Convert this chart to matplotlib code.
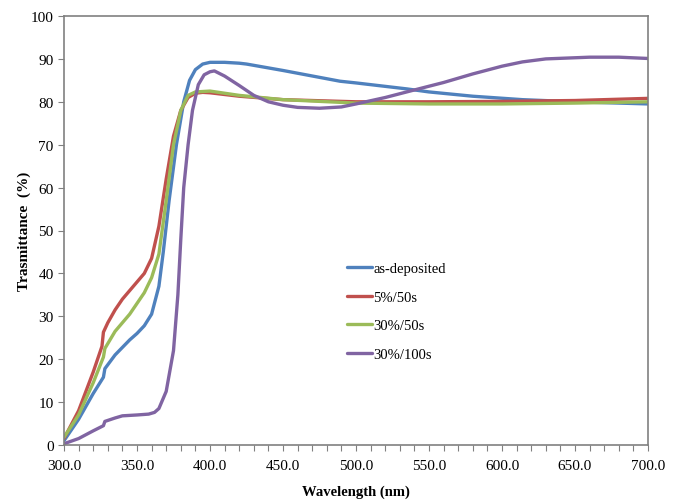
import matplotlib
matplotlib.use("Agg")
import matplotlib.pyplot as plt
from matplotlib.ticker import MultipleLocator

plt.rcParams['font.family'] = ['Liberation Serif', 'DejaVu Serif']

wl_blue = [300, 310, 320, 327, 328, 335, 345, 350, 355, 360, 365, 368, 372, 377, 382, 386, 390, 395, 400, 410, 420, 425, 450, 489, 500, 535, 550, 580, 614, 650, 700]
t_blue = [1.0, 6.0, 12.0, 15.8, 17.8, 21.0, 24.5, 26.0, 27.8, 30.5, 37.0, 45.0, 57.0, 70.0, 80.0, 85.0, 87.5, 88.8, 89.2, 89.2, 89.0, 88.8, 87.3, 84.8, 84.4, 83.0, 82.3, 81.3, 80.5, 80.0, 79.5]

wl_red = [300, 310, 320, 326, 327, 330, 335, 340, 345, 350, 355, 360, 365, 370, 375, 380, 385, 390, 395, 400, 420, 450, 500, 550, 600, 650, 700]
t_red = [1.5, 8.0, 17.0, 23.0, 26.3, 28.5, 31.5, 34.0, 36.0, 38.0, 40.0, 43.5, 51.0, 62.0, 72.0, 78.0, 81.0, 82.0, 82.2, 82.1, 81.3, 80.5, 80.0, 80.0, 80.1, 80.3, 80.8]

wl_green = [300, 310, 320, 327, 328, 335, 345, 350, 355, 360, 365, 370, 375, 380, 385, 390, 400, 420, 450, 500, 550, 600, 650, 700]
t_green = [1.8, 7.0, 14.5, 20.5, 22.5, 26.5, 30.5, 33.0, 35.5, 39.0, 44.5, 57.0, 70.0, 78.0, 81.5, 82.3, 82.5, 81.5, 80.5, 79.7, 79.5, 79.5, 79.7, 80.0]

wl_purple = [300, 310, 320, 327, 328, 335, 340, 350, 358, 362, 365, 370, 375, 378, 380, 382, 385, 388, 392, 396, 400, 403, 410, 420, 430, 440, 450, 460, 475, 490, 500, 520, 537, 560, 580, 600, 614, 630, 660, 680, 700]
t_purple = [0.3, 1.5, 3.3, 4.5, 5.5, 6.3, 6.8, 7.0, 7.2, 7.6, 8.5, 12.5, 22.0, 35.0, 48.0, 60.0, 70.0, 78.0, 84.0, 86.3, 87.0, 87.2, 86.0, 83.8, 81.5, 80.0, 79.2, 78.7, 78.5, 78.8, 79.5, 81.0, 82.5, 84.5, 86.5, 88.3, 89.3, 90.0, 90.4, 90.4, 90.1]

labels = ['as-deposited', '5%/50s', '30%/50s', '30%/100s']
colors = ['#4F81BD', '#C0504D', '#9BBB59', '#8064A2']

fig = plt.figure(figsize=(6.78, 5.02), dpi=100)
ax = fig.add_axes([64/678, 1-446/502, 584/678, 429/502])

series = [(wl_blue, t_blue), (wl_red, t_red), (wl_green, t_green), (wl_purple, t_purple)]
for (x, y), lab, c in zip(series, labels, colors):
    ax.plot(x, y, color=c, lw=2.4, label=lab, solid_capstyle='round', solid_joinstyle='round')

ax.set_xlim(300, 700)
ax.set_ylim(0, 100)
ax.xaxis.set_major_locator(MultipleLocator(50))
ax.xaxis.set_minor_locator(MultipleLocator(10))
ax.yaxis.set_major_locator(MultipleLocator(10))
ax.set_xticklabels([f"{v:.1f}" for v in ax.get_xticks()])
ax.tick_params(axis='both', which='both', direction='out', length=4, width=0.8, color='#808080', labelsize=11)
ax.tick_params(axis='x', which='major', pad=6)
for s in ax.spines.values():
    s.set_color('#808080')
    s.set_linewidth(1.2)

ax.set_xlabel('Wavelength (nm)', fontsize=10.5, fontweight='bold', labelpad=9)
ax.set_ylabel('Trasmittance  (%)', fontsize=11, fontweight='bold', labelpad=0)

ax.legend(loc='upper left', bbox_to_anchor=(0.475, 0.44), frameon=False, fontsize=10.5,
          handlelength=1.7, handletextpad=0.1, labelspacing=1.05, borderaxespad=0)

fig.savefig('out.png', dpi=100)
